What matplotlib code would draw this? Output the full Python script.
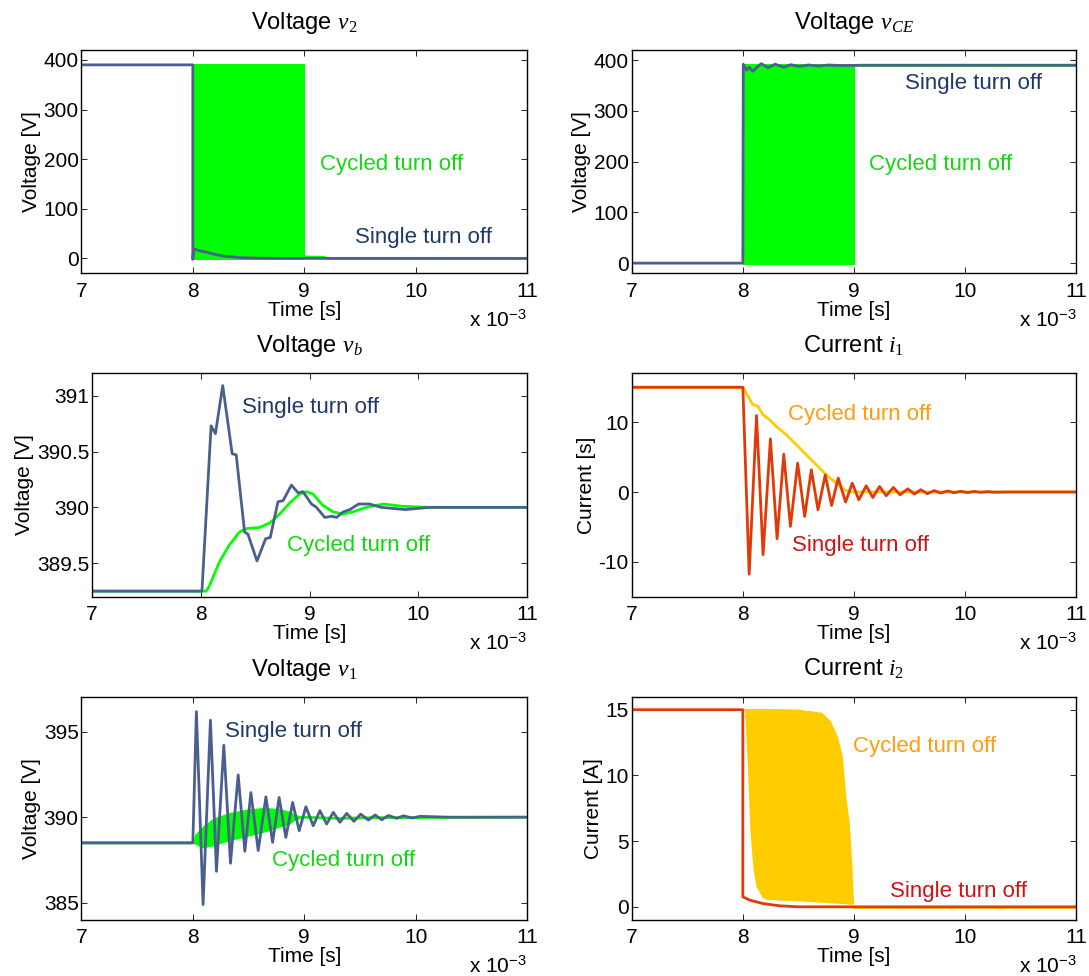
import matplotlib
matplotlib.use('Agg')
import matplotlib.pyplot as plt
from matplotlib.ticker import FuncFormatter

plt.rcParams['font.family'] = ['Liberation Sans', 'DejaVu Sans']
plt.rcParams['mathtext.fontset'] = 'custom'
plt.rcParams['mathtext.rm'] = 'Liberation Serif'
plt.rcParams['mathtext.it'] = 'Liberation Serif:italic'
plt.rcParams['mathtext.sf'] = 'Liberation Sans'
plt.rcParams['axes.unicode_minus'] = False
plt.rcParams['lines.solid_joinstyle'] = 'round'

# colours
BLUE = '#4b5f8e'
BLUE_TXT = '#1f386a'
GREEN = '#00ff00'
GREEN_TXT = '#12d812'
RED = '#e03a08'
RED_TXT = '#d01212'
YEL = '#ffcc00'
YEL_TXT = '#ff9c12'

# time in ms (axis shows x 10^-3 s)
xticks = [7, 8, 9, 10, 11]

# --- Voltage v2 ---
v2_single_t = [7, 8.0, 8.0, 8.008, 8.05, 8.118, 8.2, 8.27, 8.43, 8.6, 8.8, 11]
v2_single = [390, 390, -2, 19.5, 16, 12.7, 8, 4.7, 1.4, 0.4, 0, 0]
v2_band_t = [8.0, 9.01]
v2_band_lo = [-3, -3]
v2_band_hi = [392.6, 392.6]
v2_cyc_t = [9.01, 9.1, 9.18, 9.2, 11]
v2_cyc = [3, 2.5, 2, 0, 0]

# --- Voltage vCE ---
vce_single_t = [7, 8.0, 8.004, 8.035, 8.057, 8.088, 8.165, 8.228, 8.29, 8.37, 8.43,
                8.51, 8.59, 8.68, 8.77, 8.9, 9.1, 11]
vce_single = [0, 0, 392, 380, 386, 378, 393, 385, 392, 386, 391,
              387.5, 390.5, 388.5, 390.3, 389.3, 390, 390]
vce_band_t = [8.0, 9.006]
vce_band_lo = [-3, -3]
vce_band_hi = [393, 393]
vce_cyc_t = [9.006, 11]
vce_cyc = [390, 390]

# --- Voltage vb ---
vb_single_t = [7, 8.01, 8.094, 8.134, 8.201, 8.288, 8.325, 8.402, 8.433, 8.516, 8.596,
               8.638, 8.709, 8.756, 8.833, 8.894, 8.94, 9.017, 9.063, 9.14, 9.202, 9.248,
               9.31, 9.37, 9.45, 9.55, 9.66, 9.88, 10.1, 11]
vb_single = [389.25, 389.25, 390.73, 390.66, 391.09, 390.48, 390.47, 389.78, 389.76, 389.52, 389.72,
             389.73, 390.05, 390.06, 390.2, 390.13, 390.14, 390.03, 390.0, 389.91, 389.92, 389.91,
             389.96, 389.98, 390.03, 390.03, 390.0, 389.98, 390.0, 390.0]
vb_cyc_t = [7, 8.05, 8.08, 8.17, 8.26, 8.356, 8.418, 8.54, 8.633, 8.725, 8.818, 8.91,
            8.97, 9.03, 9.12, 9.216, 9.31, 9.4, 9.52, 9.68, 9.85, 10.1, 11]
vb_cyc = [389.25, 389.25, 389.3, 389.51, 389.66, 389.78, 389.81, 389.82, 389.86, 389.94, 390.04, 390.12,
          390.14, 390.12, 390.02, 389.96, 389.94, 389.96, 390.0, 390.03, 390.01, 390.0, 390.0]

# --- Current i1 ---
i1_single_t = [7, 8.0, 8.057, 8.123, 8.182, 8.248, 8.308, 8.368, 8.428, 8.493, 8.556, 8.616,
               8.676, 8.741, 8.798, 8.858, 8.924, 8.984, 9.043, 9.109, 9.169, 9.229, 9.289,
               9.354, 9.414, 9.483, 9.543, 9.60, 9.66, 9.72, 9.78, 9.84, 9.90, 9.96, 10.02,
               10.08, 10.14, 10.2, 10.26, 10.4, 11]
i1_single = [15, 15, -11.76, 10.95, -8.99, 7.62, -6.7, 5.42, -4.93, 4.13, -3.5, 3.18,
             -2.55, 2.46, -1.93, 1.99, -1.45, 1.27, -1.12, 0.89, -0.79, 0.79, -0.54,
             0.65, -0.4, 0.46, -0.3, 0.33, -0.25, 0.2, -0.15, 0.15, -0.1, 0.1, -0.08,
             0.08, -0.05, 0.05, -0.03, 0, 0]
i1_cyc_t = [7, 8.0, 8.048, 8.087, 8.137, 8.182, 8.242, 8.302, 8.392, 8.482, 8.571,
            8.661, 8.751, 8.84, 8.915, 8.975, 11]
i1_cyc = [15, 15, 13.68, 12.58, 12.25, 11.05, 10.34, 9.38, 8.19, 6.76, 5.33,
          3.9, 2.46, 1.27, 0.31, 0, 0]

# --- Voltage v1 ---
v1_single_t = [7, 8.0, 8.032, 8.092, 8.158, 8.212, 8.278, 8.338, 8.407, 8.467, 8.521,
               8.587, 8.656, 8.716, 8.775, 8.835, 8.896, 8.955, 9.015, 9.081, 9.141,
               9.201, 9.261, 9.321, 9.381, 9.447, 9.507, 9.576, 9.636, 9.696, 9.756,
               9.831, 9.89, 9.97, 10.04, 10.3, 11]
v1_single = [388.5, 388.5, 396.16, 384.9, 395.66, 386.84, 394.2, 387.31, 392.47, 388.01, 391.44,
             388.05, 391.19, 388.53, 391.15, 388.82, 390.86, 389.21, 390.61, 389.5, 390.38,
             389.6, 390.28, 389.7, 390.22, 389.76, 390.18, 389.83, 390.13, 389.85, 390.1,
             389.93, 390.08, 389.95, 390.05, 390.0, 390.0]
v1_band_t = [8.0, 8.017, 8.092, 8.182, 8.332, 8.482, 8.632, 8.78, 8.87, 8.93, 8.99]
v1_band_lo = [388.5, 388.43, 388.2, 388.34, 388.63, 388.86, 389.11, 389.41, 389.6, 389.89, 390.0]
v1_band_hi = [388.5, 389.0, 389.5, 389.95, 390.28, 390.47, 390.57, 390.51, 390.34, 390.15, 390.03]
v1_cyc_t = [7, 8.0, 8.99, 9.3, 9.6, 11]
v1_cyc = [388.5, 388.5, 390.0, 389.93, 389.97, 390.0]

# --- Current i2 ---
i2_single_t = [7, 8.0, 8.0, 8.063, 8.18, 8.33, 8.5, 11]
i2_single = [15, 15, 0.76, 0.51, 0.25, 0.08, 0, 0]
i2_band_t = [8.0, 8.015, 8.04, 8.063, 8.092, 8.12, 8.17, 8.21, 8.48, 8.615, 8.71,
             8.787, 8.85, 8.895, 8.926, 8.957, 8.98, 8.995, 9.0]
i2_band_hi = [15.1, 15.1, 15.1, 15.1, 15.1, 15.1, 15.1, 15.1, 15.05, 14.92, 14.8,
              14.16, 13.0, 11.5, 8.4, 6.4, 3.3, 0.3, 0.2]
i2_band_lo = [15.1, 15.0, 10.95, 5.86, 2.8, 1.53, 0.76, 0.56, 0.46, 0.4, 0.35,
              0.3, 0.28, 0.25, 0.22, 0.2, 0.2, 0.2, 0.2]
i2_cyc_t = [9.0, 11]
i2_cyc = [0, 0]

fig = plt.figure(figsize=(10.89, 9.76), dpi=100)
pos = {
    'v2': [0.0748, 0.7200, 0.4091, 0.2288],
    'vce': [0.5800, 0.7200, 0.4085, 0.2288],
    'vb': [0.0846, 0.3886, 0.3994, 0.2289],
    'i1': [0.5800, 0.3886, 0.4085, 0.2289],
    'v1': [0.0748, 0.0574, 0.4091, 0.2282],
    'i2': [0.5800, 0.0574, 0.4085, 0.2289],
}
LW = 2.0


def style(ax, title, ylabel, ylim, yticks):
    ax.set_xlim(7, 11)
    ax.set_ylim(*ylim)
    ax.set_xticks(xticks)
    ax.set_yticks(yticks)
    ax.yaxis.set_major_formatter(FuncFormatter(lambda v, p: '%g' % v))
    ax.tick_params(direction='in', top=True, right=True, length=4, width=0.6,
                   labelsize=15, pad=2)
    ax.tick_params(axis='x', pad=6)
    for s in ax.spines.values():
        s.set_linewidth(1.0)
    ax.set_title(title, fontsize=17, pad=15)
    ax.set_xlabel('Time [s]', fontsize=15, labelpad=0)
    ax.set_ylabel(ylabel, fontsize=15, labelpad=2)
    ax.annotate('x 10$^{\\mathsf{-3}}$', xy=(1, 0), xycoords='axes fraction',
                xytext=(0, -26), textcoords='offset points', ha='right', va='top',
                fontsize=15)


# v2
ax = fig.add_axes(pos['v2'])
ax.fill_between(v2_band_t, v2_band_lo, v2_band_hi, color=GREEN, lw=0)
ax.plot(v2_cyc_t, v2_cyc, color=GREEN, lw=LW)
ax.plot(v2_single_t, v2_single, color=BLUE, lw=LW)
ax.text(9.14, 189, 'Cycled turn off', color=GREEN_TXT, fontsize=16, va='center')
ax.text(9.46, 42, 'Single turn off', color=BLUE_TXT, fontsize=16, va='center')
style(ax, r'Voltage $v_2$', 'Voltage [V]', (-30, 420), [0, 100, 200, 300, 400])

# vCE
ax = fig.add_axes(pos['vce'])
ax.fill_between(vce_band_t, vce_band_lo, vce_band_hi, color=GREEN, lw=0)
ax.plot(vce_cyc_t, vce_cyc, color=GREEN, lw=LW)
ax.plot(vce_single_t, vce_single, color=BLUE, lw=LW)
ax.text(9.46, 353, 'Single turn off', color=BLUE_TXT, fontsize=16, va='center')
ax.text(9.13, 195, 'Cycled turn off', color=GREEN_TXT, fontsize=16, va='center')
style(ax, r'Voltage $v_{CE}$', 'Voltage [V]', (-20, 420), [0, 100, 200, 300, 400])

# vb
ax = fig.add_axes(pos['vb'])
ax.plot(vb_cyc_t, vb_cyc, color=GREEN, lw=LW)
ax.plot(vb_single_t, vb_single, color=BLUE, lw=LW)
ax.text(8.38, 390.89, 'Single turn off', color=BLUE_TXT, fontsize=16, va='center')
ax.text(8.79, 389.66, 'Cycled turn off', color=GREEN_TXT, fontsize=16, va='center')
style(ax, r'Voltage $v_b$', 'Voltage [V]', (389.2, 391.2), [389.5, 390, 390.5, 391])

# i1
ax = fig.add_axes(pos['i1'])
ax.plot(i1_cyc_t, i1_cyc, color=YEL, lw=LW)
ax.plot(i1_single_t, i1_single, color=RED, lw=LW)
ax.text(8.41, 11.05, 'Cycled turn off', color=YEL_TXT, fontsize=16, va='center')
ax.text(8.44, -7.6, 'Single turn off', color=RED_TXT, fontsize=16, va='center')
style(ax, r'Current $i_{\mathit{1}}$', 'Current [s]', (-15, 17), [-10, 0, 10])

# v1
ax = fig.add_axes(pos['v1'])
ax.fill_between(v1_band_t, v1_band_lo, v1_band_hi, color=GREEN, lw=0)
ax.plot(v1_cyc_t, v1_cyc, color=GREEN, lw=LW)
ax.plot(v1_single_t, v1_single, color=BLUE, lw=LW)
ax.text(8.29, 395.0, 'Single turn off', color=BLUE_TXT, fontsize=16, va='center')
ax.text(8.71, 387.48, 'Cycled turn off', color=GREEN_TXT, fontsize=16, va='center')
style(ax, r'Voltage $v_{\mathit{1}}$', 'Voltage [V]', (384, 397), [385, 390, 395])

# i2
ax = fig.add_axes(pos['i2'])
ax.fill_between(i2_band_t, i2_band_lo, i2_band_hi, color=YEL, lw=0)
ax.plot(i2_cyc_t, i2_cyc, color=YEL, lw=LW)
ax.plot(i2_single_t, i2_single, color=RED, lw=LW)
ax.text(8.99, 12.2, 'Cycled turn off', color=YEL_TXT, fontsize=16, va='center')
ax.text(9.32, 1.2, 'Single turn off', color=RED_TXT, fontsize=16, va='center')
style(ax, r'Current $i_2$', 'Current [A]', (-1, 16), [0, 5, 10, 15])

fig.savefig('out.png', dpi=100)
